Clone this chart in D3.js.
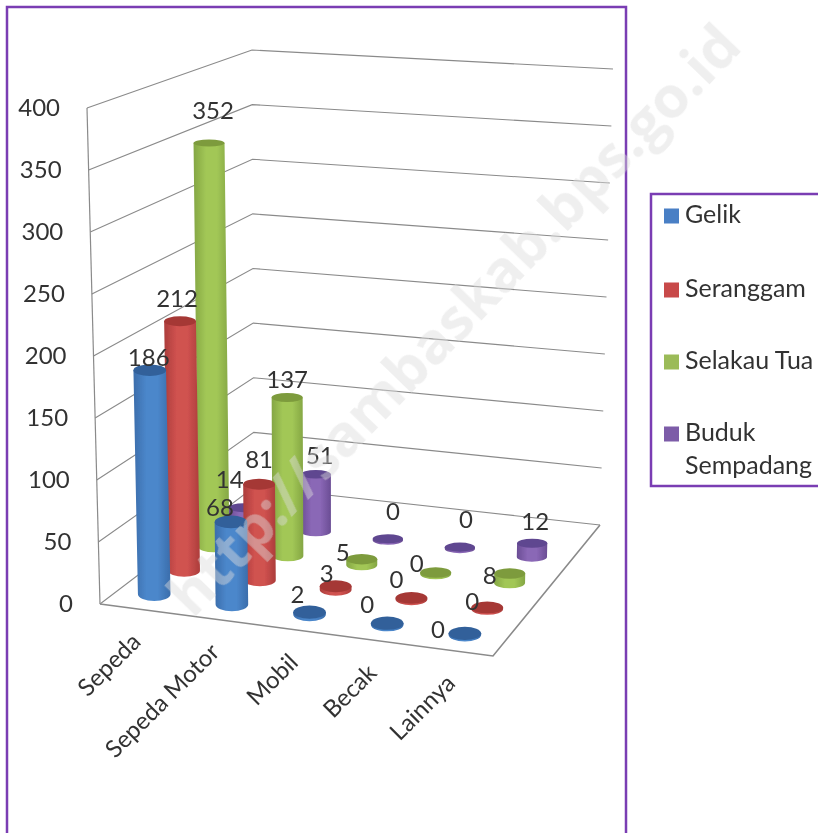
<!DOCTYPE html>
<html>
<head>
<meta charset="utf-8">
<script src="https://cdn.jsdelivr.net/npm/d3@7"></script>
<style>
html, body { margin: 0; padding: 0; background: #fff; overflow: hidden; }
text { font-family: Lato, "Open Sans", sans-serif; }
</style>
</head>
<body>
<div id="chart"></div>
<script>
// data
const categories = ["Sepeda", "Sepeda Motor", "Mobil", "Becak", "Lainnya"];
const seriesNames = ["Gelik", "Seranggam", "Selakau Tua", "Buduk Sempadang"];
const gelik = [186, 68, 2, 0, 0];
const seranggam = [212, 81, 3, 0, 0];
const selakauTua = [352, 137, 5, 0, 8];
const budukSempadang = [14, 51, 0, 0, 12];
const valueTicks = [0, 50, 100, 150, 200, 250, 300, 350, 400];

const seriesValues = [gelik, seranggam, selakauTua, budukSempadang];

// colours per series
const edgeColor = ["#3b6dab", "#ac3d3b", "#84a644", "#6a4d94"];
const midColor = ["#4b87cb", "#d05250", "#a2c756", "#8a67b6"];
const capColor = ["#30609a", "#a53836", "#7d9b3c", "#5f4690"];
const swatchColor = ["#4a7fc5", "#c8494a", "#9bbb59", "#7d5ca8"];

const width = 818, height = 833;
const frameColor = "#7a3db3";
const gridColor = "#8a8a8a";
const textColor = "#333";
const fontSize = 24;

// corners of the 3d box on screen
const floorFL = [100, 604], floorFR = [493, 656], floorBR = [600, 525], floorBL = [254, 487];
const topFL = [87, 108], topFR = [501, 141], topBR = [613, 69], topBL = [252, 50];

function lerp(a, b, t) { return [a[0] + (b[0] - a[0]) * t, a[1] + (b[1] - a[1]) * t]; }
function bilerp(fl, fr, br, bl, u, w) { return lerp(lerp(fl, fr, u), lerp(bl, br, u), w); }

// u across categories, w into depth, h 0..1 up the wall
function project(u, w, h) {
  return lerp(bilerp(floorFL, floorFR, floorBR, floorBL, u, w), bilerp(topFL, topFR, topBR, topBL, u, w), h);
}

const xCat = d3.scaleBand().domain(categories).range([0, 1]);
// the chart has an empty fifth row at the back
const zSeries = d3.scaleBand().domain(seriesNames.concat("")).range([0, 1]);
const yWall = d3.scaleLinear().domain([0, 400]).range([0, 1]);
// bars stand away from the walls so perspective makes them a bit shorter
const yBar = d3.scaleLinear().domain([0, 400]).range([0, 0.98]);

// point on a bar, lifted a little off the floor
function barPoint(d, v) {
  const p = project(d.u, d.w, yBar(v));
  return [p[0], p[1] - 3];
}

const svg = d3.select("#chart").append("svg")
  .attr("width", width)
  .attr("height", height);

const defs = svg.append("defs");
defs.append("filter").attr("id", "soft")
  .attr("x", "-5%").attr("y", "-5%").attr("width", "110%").attr("height", "110%")
  .append("feGaussianBlur").attr("stdDeviation", 0.45);

seriesNames.forEach((s, i) => {
  const g = defs.append("linearGradient").attr("id", "body" + i);
  g.append("stop").attr("offset", "0%").attr("stop-color", edgeColor[i]);
  g.append("stop").attr("offset", "35%").attr("stop-color", midColor[i]);
  g.append("stop").attr("offset", "65%").attr("stop-color", midColor[i]);
  g.append("stop").attr("offset", "100%").attr("stop-color", edgeColor[i]);
});

const root = svg.append("g").attr("filter", "url(#soft)");

// frames, both run off the picture
root.append("rect")
  .attr("x", 7).attr("y", 7).attr("width", 619).attr("height", 860)
  .attr("fill", "#fff").attr("stroke", frameColor).attr("stroke-width", 2.5);
root.append("rect")
  .attr("x", 651).attr("y", 194).attr("width", 200).attr("height", 292)
  .attr("fill", "#fff").attr("stroke", frameColor).attr("stroke-width", 2.5);

// walls: gridlines run front-left -> back-left -> back-right
const line = d3.line();
root.selectAll(".grid")
  .data(valueTicks)
  .enter().append("path")
  .attr("class", "grid")
  .attr("fill", "none")
  .attr("stroke", gridColor)
  .attr("stroke-width", 1.1)
  .attr("d", d => line([project(0, 0, yWall(d)), project(0, 1, yWall(d)), project(1, 1, yWall(d))]));

// front edge of the left wall
root.append("path")
  .attr("fill", "none").attr("stroke", gridColor).attr("stroke-width", 1.2)
  .attr("d", line([project(0, 0, 0), project(0, 0, 1)]));

// floor edges
root.append("path")
  .attr("fill", "none").attr("stroke", gridColor).attr("stroke-width", 1.6)
  .attr("d", line([project(0, 0, 0), project(1, 0, 0), project(1, 1, 0)]));

// y labels follow the tilted edge
root.selectAll(".ytick")
  .data(valueTicks)
  .enter().append("text")
  .attr("class", "ytick")
  .attr("x", d => project(0, 0, yWall(d))[0] - 27)
  .attr("y", d => project(0, 0, yWall(d))[1] - 1)
  .attr("dy", "0.36em")
  .attr("text-anchor", "end")
  .attr("font-size", fontSize)
  .attr("fill", textColor)
  .text(d => d);

// category labels
root.selectAll(".xtick")
  .data(categories)
  .enter().append("text")
  .attr("class", "xtick")
  .attr("transform", d => {
    const p = project(xCat(d) + xCat.bandwidth() / 2, 0, 0);
    return "translate(" + (p[0] + 3) + "," + (p[1] + 34) + ") rotate(-45)";
  })
  .attr("text-anchor", "end")
  .attr("font-size", fontSize)
  .attr("fill", textColor)
  .text(d => d);

// flat table of bars, back rows first
const bars = [];
seriesNames.forEach((s, i) => {
  categories.forEach((c, k) => {
    bars.push({ s: i, k: k, value: seriesValues[i][k],
      u: xCat(c) + xCat.bandwidth() / 2,
      w: zSeries(s) + zSeries.bandwidth() / 2 });
  });
});
bars.sort((a, b) => d3.descending(a.s, b.s) || d3.ascending(a.k, b.k));

function rx(d) { return 16.5 - 2 * d.w; }
function ry(d, v) { return 7 - 3.5 * d.w - 2 * v / 400; }

const cyl = root.selectAll(".bar")
  .data(bars)
  .enter().append("g")
  .attr("class", "bar");

// side of the cylinder
cyl.append("path")
  .attr("fill", d => "url(#body" + d.s + ")")
  .attr("d", d => {
    const b = barPoint(d, 0);
    const t = barPoint(d, d.value);
    const r = rx(d);
    t[1] = Math.min(t[1], b[1] - 1.5);
    return "M" + (t[0] - r) + "," + t[1]
      + "L" + (b[0] - r) + "," + b[1]
      + "A" + r + "," + ry(d, 0) + " 0 0 0 " + (b[0] + r) + "," + b[1]
      + "L" + (t[0] + r) + "," + t[1] + "Z";
  });

// top of the cylinder
cyl.append("ellipse")
  .attr("fill", d => capColor[d.s])
  .attr("cx", d => barPoint(d, d.value)[0])
  .attr("cy", d => Math.min(barPoint(d, d.value)[1], barPoint(d, 0)[1] - 1.5))
  .attr("rx", rx)
  .attr("ry", d => ry(d, d.value));

// value labels get moved off the bars by hand, same shape as the values
const labelNudge = [
  [[-1, -4], [-11, -6], [-12, -9], [-20, -12], [-27, 3]],
  [[-3, -14], [0, -16], [-9, -4], [-15, -11], [-15, 1]],
  [[4, -24], [0, -10], [-19, 2], [-19, -2], [-20, 10]],
  [[-14, -20], [4, -10], [5, -20], [6, -21], [3, -13]]
];

root.selectAll(".vlabel")
  .data(bars)
  .enter().append("text")
  .attr("class", "vlabel")
  .attr("x", d => barPoint(d, d.value)[0] + labelNudge[d.s][d.k][0])
  .attr("y", d => barPoint(d, d.value)[1] + labelNudge[d.s][d.k][1])
  .attr("text-anchor", "middle")
  .attr("font-size", fontSize)
  .attr("fill", textColor)
  .text(d => d.value);

// legend
const legendBase = [223, 297, 369, 441];
const legend = root.selectAll(".legend")
  .data(seriesNames)
  .enter().append("g")
  .attr("class", "legend");
legend.append("rect")
  .attr("x", 664)
  .attr("y", (d, i) => legendBase[i] - 14.5)
  .attr("width", 15).attr("height", 15)
  .attr("fill", (d, i) => swatchColor[i]);
legend.each(function (d, i) {
  // last name wraps onto two lines
  const parts = d === "Buduk Sempadang" ? d.split(" ") : [d];
  parts.forEach((p, j) => {
    d3.select(this).append("text")
      .attr("x", 685)
      .attr("y", legendBase[i] + j * 33)
      .attr("font-size", 25)
      .attr("fill", textColor)
      .text(p);
  });
});

// site watermark over everything
svg.append("text")
  .attr("transform", "translate(454,320) rotate(-46)")
  .attr("text-anchor", "middle")
  .attr("dy", "0.35em")
  .attr("font-size", 58)
  .attr("font-weight", "bold")
  .style("font-family", "'Open Sans', sans-serif")
  .attr("fill", "rgba(220,220,220,0.45)")
  .text("http://sambaskab.bps.go.id");
</script>
</body>
</html>
